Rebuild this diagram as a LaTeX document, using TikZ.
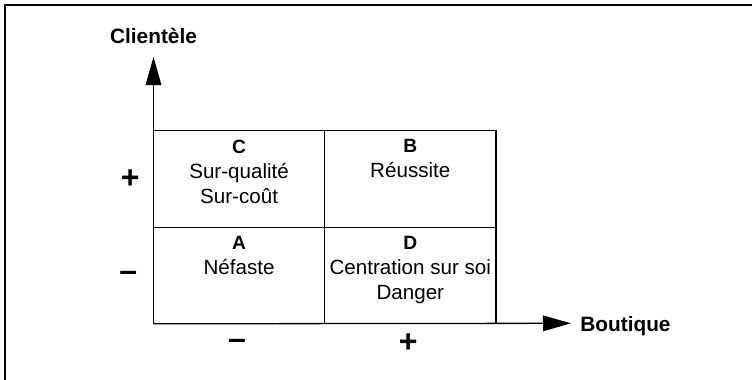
\documentclass[tikz,border=0pt]{standalone}
\usepackage{fontspec}
\setmainfont{Liberation Sans}
\usetikzlibrary{positioning,arrows.meta}

\newcommand{\quadletter}[1]{{\fontsize{9.6}{10}\selectfont\bfseries #1}}

\begin{document}
\begin{tikzpicture}[x=0.5pt,y=-0.5pt,
		cell/.style={rectangle, draw=black, line width=0.65pt, minimum width=85.6pt, minimum height=48.3pt, inner sep=0pt, outer sep=0pt},
		celltext/.style={align=center, inner sep=0pt, font=\fontsize{10.3}{12.5}\selectfont},
		axislabel/.style={inner sep=0pt, font=\fontsize{10.4}{12}\selectfont\bfseries},
		sign/.style={anchor=base, inner sep=0pt, font=\fontsize{16}{18}\selectfont\bfseries},
		axis/.style={line width=0.65pt, -{Triangle[length=14pt,width=7.8pt]}}]
		\useasboundingbox (0,0) rectangle (752,380);
		\draw[line width=0.8pt] (5,380) -- (5,5) -- (752,5);

		% quadrants
		\node (A) [cell] at (239.1,275.5) {};
		\node (D) [cell, right=0pt of A] {};
		\node (C) [cell, above=0pt of A] {};
		\node (B) [cell, right=0pt of C] {};

		\node (Ctext) [celltext, below=4.3pt of C.north] {\quadletter{C}\\Sur-qualité\\Sur-coût};
		\node (Btext) [celltext, below=4.3pt of B.north] {\quadletter{B}\\Réussite};
		\node (Atext) [celltext, below=4.3pt of A.north] {\quadletter{A}\\Néfaste};
		\node (Dtext) [celltext, below=4.3pt of D.north] {\quadletter{D}\\Centration sur soi\\Danger};

		% axes
		\coordinate (ytip) at (153.5,57);
		\coordinate (xtip) at (571,323.3);
		\draw[axis] (A.south west) -- (ytip);
		\draw[axis] (A.south west) -- (xtip);
		\node (clientele) [axislabel, anchor=base] at (153.5,44) {Clientèle};
		\node (boutique) [axislabel, anchor=base west] at (580,331) {Boutique};

		\node (plusy) [sign] at (130.3,189) {+};
		\node (minusy) [sign] at (128.3,281) {–};
		\node (minusx) [sign] at (237,349.5) {–};
		\node (plusx) [sign] at (408.3,352.5) {+};
	\end{tikzpicture}
\end{document}
